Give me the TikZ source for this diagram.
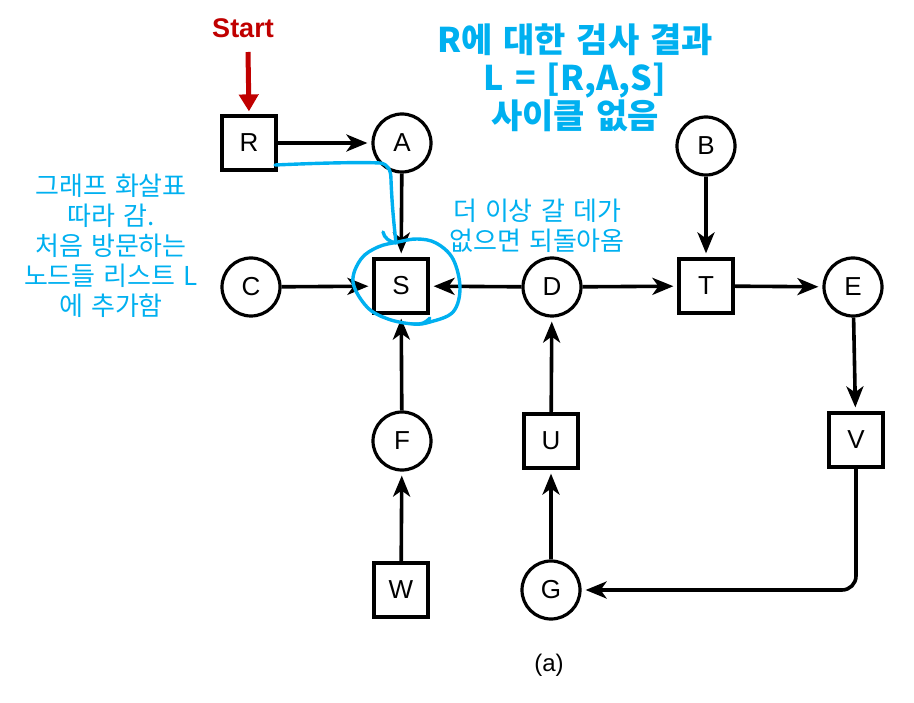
\documentclass[tikz,border=0pt]{standalone}
\usepackage{fontspec}
\setmainfont{Liberation Sans}
\newfontfamily\kr{Noto Sans CJK KR}[WordSpace=1.4]
\usetikzlibrary{arrows.meta}
\definecolor{hblue}{HTML}{00B0F0}
\definecolor{sred}{HTML}{C00000}
\begin{document}
\begin{tikzpicture}[x=1pt,y=-1pt,
  sq/.style={draw,line width=3.2pt,minimum size=54pt,inner sep=0pt,font=\fontsize{26}{26}\selectfont},
  ci/.style={draw,circle,line width=3.2pt,minimum size=58pt,inner sep=0pt,font=\fontsize{26}{26}\selectfont},
  edge/.style={line width=3.6pt,-{Stealth[length=21pt,width=17pt,inset=6pt]},shorten >=4pt},
  startarrow/.style={draw=sred,line width=5pt,-{Triangle[length=17pt,width=19pt]},shorten >=3pt},
  note/.style={text=hblue,align=center,inner sep=0pt},
  hand/.style={draw=hblue,line width=3.4pt,line cap=round,line join=round},
]
\useasboundingbox (0,0) rectangle (914,703);
% nodes
\node[sq] (R) at (249,143) {R};
\node[ci] (A) at (402,143) {A};
\node[ci] (B) at (706,146) {B};
\node[ci] (C) at (251,287) {C};
\node[sq] (S) at (401,286) {S};
\node[ci] (D) at (552,287) {D};
\node[sq] (T) at (706,286) {T};
\node[ci] (E) at (853,287) {E};
\node[ci] (F) at (402,441) {F};
\node[sq] (U) at (551,441) {U};
\node[sq] (V) at (856,440) {V};
\node[sq] (W) at (401,590) {W};
\node[ci] (G) at (551,590) {G};
\node[inner sep=0pt,font=\fontsize{24}{24}\selectfont] (cap) at (549,665) {(a)};
% start
\node[text=sred,inner sep=0pt,font=\fontsize{27}{27}\selectfont\bfseries] (start) at (243,28) {Start};
\coordinate (s0) at (248,52);
\draw[startarrow] (s0) -- (R.north);
% edges
\draw[edge] (R) -- (A);
\draw[edge] (A) -- (S);
\draw[edge] (B) -- (T);
\draw[edge] (C) -- (S);
\draw[edge] (D) -- (S);
\draw[edge] (D) -- (T);
\draw[edge] (T) -- (E);
\draw[edge] (E) -- (V);
\draw[edge] (F) -- (S);
\draw[edge] (W) -- (F);
\draw[edge] (G) -- (U);
\draw[edge] (U) -- (D);
\draw[edge,rounded corners=14pt] (V.south) |- (G.east);
% notes
\node[note,font=\kr\bfseries\fontsize{34}{38}\selectfont] (title) at (575,78) {R에 대한 검사 결과\\L = [R,A,S]\\사이클 없음};
\node[note,font=\kr\fontsize{26}{30}\selectfont] (left) at (111,246) {그래프 화살표\\따라 감.\\처음 방문하는\\노드들 리스트 L\\에 추가함};
\node[note,font=\kr\fontsize{26}{30}\selectfont] (mid) at (537,226) {더 이상 갈 데가\\없으면 되돌아옴};
% hand drawn marks
\draw[hand] (275,165) .. controls (320,163) and (360,162) .. (380,163)
  .. controls (388,164) and (391,170) .. (391,180)
  .. controls (392,205) and (394,225) .. (396,243)
  .. controls (390,242) and (384,238) .. (383,232);
\draw[hand] plot[smooth cycle,tension=0.6] coordinates {(398,242) (417,239) (436,243) (453,259) (460,288) (453,312) (430,322) (413,324) (388,319) (367,307) (353,282) (361,259) (378,247)};
\draw[hand] (413,324) .. controls (420,325) and (426,323) .. (430,318);
\end{tikzpicture}
\end{document}
